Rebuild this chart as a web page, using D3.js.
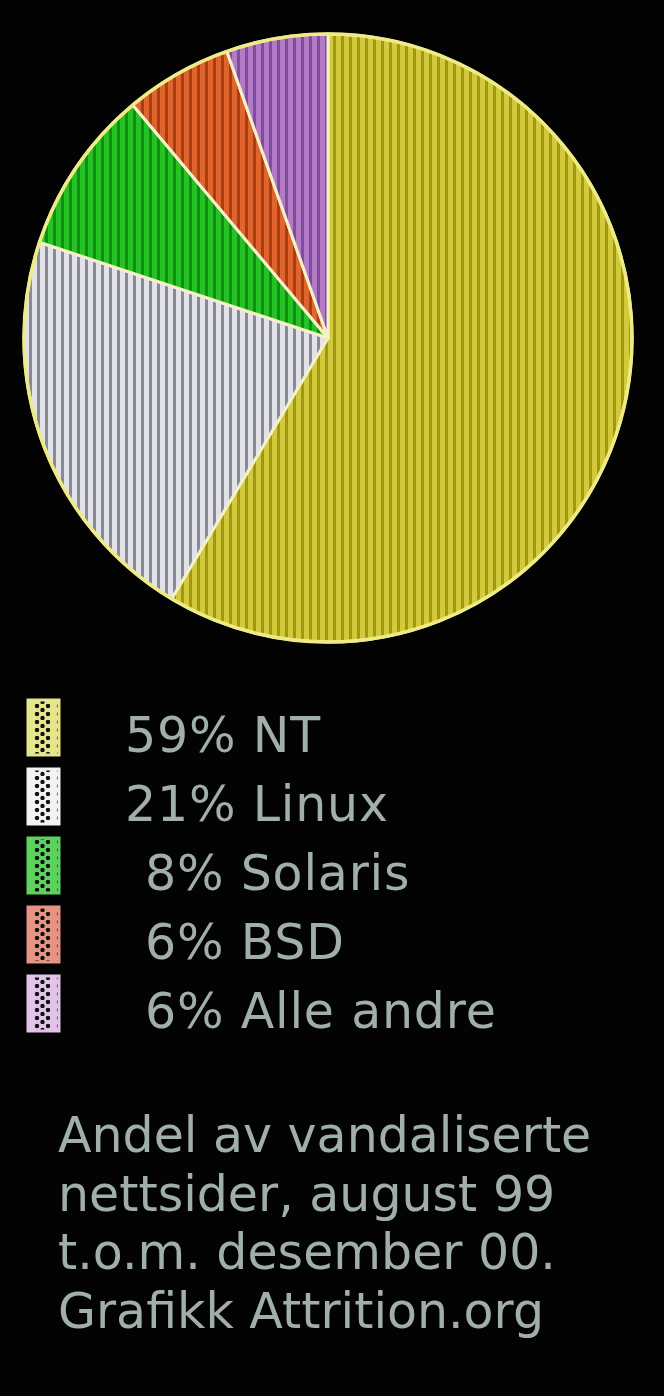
<!DOCTYPE html>
<html>
<head>
<meta charset="utf-8">
<script src="https://cdn.jsdelivr.net/npm/d3@7"></script>
<style>
  html, body { margin: 0; padding: 0; background: #000; }
  svg { display: block; }
</style>
</head>
<body>
<div id="chart"></div>
<script>
// data
const systems = ["NT", "Linux", "Solaris", "BSD", "Alle andre"];
// printed (rounded) shares in the legend
const labelShares = [59, 21, 8, 6, 6];
// slice sizes as measured on the drawn pie
const sliceShares = [58.6, 21.5, 8.8, 5.7, 5.4];
const lightColors = ["#d2ca3a", "#e2e2ea", "#24c224", "#e0642e", "#b47ac6"];
const darkColors = ["#a09812", "#8a8a94", "#128c12", "#a83e12", "#7e4e9e"];
const swatchColors = ["#e6e68c", "#f2f2f2", "#5ed25e", "#e69484", "#e2c4ea"];
const footerLines = [
  "Andel av vandaliserte",
  "nettsider, august 99",
  "t.o.m. desember 00.",
  "Grafikk Attrition.org"
];

const width = 664, height = 1396;
const cx = 328, cy = 338, radius = 304;
const textColor = "#a0aeac";
const font = "'DejaVu Sans', Verdana, sans-serif";

const svg = d3.select("#chart")
  .append("svg")
  .attr("width", width)
  .attr("height", height);

svg.append("rect")
  .attr("width", width)
  .attr("height", height)
  .attr("fill", "#030303");

const defs = svg.append("defs");

// vertical stripe fill for each slice
systems.forEach((s, i) => {
  const p = defs.append("pattern")
    .attr("id", "stripe" + i)
    .attr("patternUnits", "userSpaceOnUse")
    .attr("width", 8)
    .attr("height", 8);
  p.append("rect").attr("width", 8).attr("height", 8).attr("fill", lightColors[i]);
  p.append("rect").attr("x", 5).attr("width", 3).attr("height", 8).attr("fill", darkColors[i]);
});

// dotted swatch fill for the legend
systems.forEach((s, i) => {
  const p = defs.append("pattern")
    .attr("id", "dots" + i)
    .attr("patternUnits", "userSpaceOnUse")
    .attr("x", 32)
    .attr("y", 0)
    .attr("width", 22)
    .attr("height", 8);
  p.append("rect").attr("width", 22).attr("height", 8).attr("fill", swatchColors[i]);
  p.append("circle").attr("cx", 5).attr("cy", 2).attr("r", 2.2).attr("fill", "#111");
  p.append("circle").attr("cx", 16).attr("cy", 2).attr("r", 2.2).attr("fill", "#111");
  p.append("circle").attr("cx", 10.5).attr("cy", 6).attr("r", 2.2).attr("fill", "#111");
});

const pie = d3.pie().sort(null).value(d => d);
const arc = d3.arc().innerRadius(0).outerRadius(radius);

const g = svg.append("g")
  .attr("transform", `translate(${cx}, ${cy})`);

g.selectAll("path")
  .data(pie(sliceShares))
  .join("path")
  .attr("d", arc)
  .attr("fill", (d, i) => `url(#stripe${i})`)
  .attr("stroke", "#f4f0c8")
  .attr("stroke-width", 3)
  .attr("stroke-linejoin", "round");

g.append("circle")
  .attr("r", radius)
  .attr("fill", "none")
  .attr("stroke", "#eeea84")
  .attr("stroke-width", 3.5);

// legend
const rowY = d3.scaleLinear().domain([0, 1]).range([700, 769]);

const legend = svg.append("g");

legend.selectAll("rect")
  .data(systems)
  .join("rect")
  .attr("x", 28)
  .attr("y", (d, i) => rowY(i))
  .attr("width", 31)
  .attr("height", 55)
  .attr("fill", (d, i) => `url(#dots${i})`)
  .attr("stroke", (d, i) => swatchColors[i])
  .attr("stroke-width", 3);

legend.selectAll("text")
  .data(systems)
  .join("text")
  .attr("x", (d, i) => labelShares[i] < 10 ? 145 : 125)
  .attr("y", (d, i) => rowY(i) + 52)
  .attr("fill", textColor)
  .attr("font-family", font)
  .attr("font-size", 49)
  .attr("letter-spacing", 0.8)
  .text((d, i) => `${labelShares[i]}% ${d}`);

// footer note
svg.append("g")
  .selectAll("text")
  .data(footerLines)
  .join("text")
  .attr("x", 58)
  .attr("y", (d, i) => 1152 + i * 58.7)
  .attr("fill", textColor)
  .attr("font-family", font)
  .attr("font-size", 49)
  .text(d => d);
</script>
</body>
</html>
